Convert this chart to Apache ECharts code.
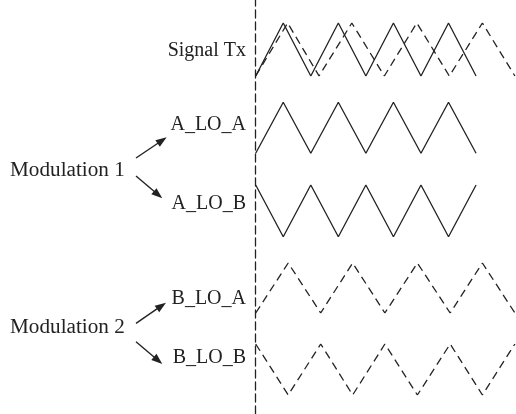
<!DOCTYPE html>
<html>
<head>
<meta charset="utf-8">
<script src="https://cdn.jsdelivr.net/npm/echarts@6/dist/echarts.min.js"></script>
<style>
  html, body { margin: 0; padding: 0; background: #ffffff; }
  #chart { width: 516px; height: 414px; }
</style>
</head>
<body>
<div id="chart"></div>
<script>
// Time axis in units of one half-period of the solid (LO) triangle wave
const solidTimes = [0, 1, 2, 3, 4, 5, 6, 7, 8];
const dashedTimes = [0, 1.18, 2.36, 3.52, 4.69, 5.87, 7.06, 8.23, 9.41];
const txDashedTimes = [0, 1.16, 2.30, 3.49, 4.67, 5.85, 7.03, 8.23, 9.41];

// Levels: 0 = low, 1 = high
const txSolidLevels  = [0, 1, 0, 1, 0, 1, 0, 1, 0];
const txDashedLevels = [0, 1, 0, 1, 0, 1, 0, 1, 0];
const aLoALevels     = [0, 1, 0, 1, 0, 1, 0, 1, 0];
const aLoBLevels     = [1, 0, 1, 0, 1, 0, 1, 0, 1];
const bLoALevels     = [0, 1, 0, 1, 0, 1, 0, 1, 0];
const bLoBLevels     = [1, 0, 1, 0, 1, 0, 1, 0, 1];

const rowLabels = ['Signal Tx', 'A_LO_A', 'A_LO_B', 'B_LO_A', 'B_LO_B'];
const groupLabels = ['Modulation 1', 'Modulation 2'];

const INK = '#222222';
const FONT = '"Liberation Serif", "Times New Roman", serif';
const X_MAX = 9.45;
const AXIS_X = 255.7;

// Row bands (top, height) in pixels
const rows = [
  { top: 23, height: 53, labelY: 51 },
  { top: 102.3, height: 51, labelY: 125 },
  { top: 185, height: 51.7, labelY: 204 },
  { top: 263, height: 50, labelY: 299 },
  { top: 344, height: 51, labelY: 358 }
];

const pair = (ts, vs) => ts.map((t, i) => [t, vs[i]]);

const grids = rows.map(r => ({ left: AXIS_X, right: 0, top: r.top, height: r.height }));
grids.push({ left: AXIS_X, right: 0, top: 0, bottom: 0 });

const xAxes = grids.map((g, i) => ({ gridIndex: i, type: 'value', min: 0, max: X_MAX, show: false }));
const yAxes = grids.map((g, i) => ({ gridIndex: i, type: 'value', min: 0, max: 1, show: false }));
// Dashed reference line at t = 0 spanning the full height
yAxes[5] = {
  gridIndex: 5, type: 'value', min: 0, max: 1, show: true,
  axisLine: { show: true, lineStyle: { color: INK, width: 1.3, type: [8, 4] } },
  axisTick: { show: false }, axisLabel: { show: false }, splitLine: { show: false }
};

function wave(idx, data, dashed) {
  return {
    type: 'line', xAxisIndex: idx, yAxisIndex: idx, data: data,
    symbol: 'none', silent: true,
    lineStyle: { color: INK, width: 1.3, type: dashed ? [8, 5] : 'solid' }
  };
}

const series = [
  wave(0, pair(solidTimes, txSolidLevels), false),
  wave(0, pair(txDashedTimes, txDashedLevels), true),
  wave(1, pair(solidTimes, aLoALevels), false),
  wave(2, pair(solidTimes, aLoBLevels), false),
  wave(3, pair(dashedTimes, bLoALevels), true),
  wave(4, pair(dashedTimes, bLoBLevels), true)
];

const graphics = [];
rows.forEach((r, i) => {
  graphics.push({
    type: 'text', x: 246, y: r.labelY, silent: true,
    style: { text: rowLabels[i], fill: INK, font: '20px ' + FONT, align: 'right', verticalAlign: 'middle' }
  });
});
[171, 327.5].forEach((y, i) => {
  graphics.push({
    type: 'text', x: 10, y: y, scaleX: 1.06, silent: true,
    style: { text: groupLabels[i], fill: INK, font: '20px ' + FONT, align: 'left', verticalAlign: 'middle' }
  });
});

function arrow(x1, y1, x2, y2) {
  const dx = x2 - x1, dy = y2 - y1, len = Math.hypot(dx, dy);
  const ux = dx / len, uy = dy / len, px = -uy, py = ux;
  const L = 11, W = 4;
  const bx = x2 - ux * L, by = y2 - uy * L;
  graphics.push({
    type: 'line', silent: true,
    shape: { x1: x1, y1: y1, x2: x2 - ux * L * 0.6, y2: y2 - uy * L * 0.6 },
    style: { stroke: INK, lineWidth: 1.4 }
  });
  graphics.push({
    type: 'polygon', silent: true,
    shape: { points: [[x2, y2], [bx + px * W, by + py * W], [bx - px * W, by - py * W]] },
    style: { fill: INK }
  });
}
arrow(136, 158, 166.7, 137.3);
arrow(136, 176, 162.3, 198.3);
arrow(136, 323.3, 166, 302.7);
arrow(136, 341.7, 162.3, 364);

const chart = echarts.init(document.getElementById('chart'), null, { renderer: 'canvas' });
chart.setOption({
  backgroundColor: '#ffffff',
  animation: false,
  grid: grids,
  xAxis: xAxes,
  yAxis: yAxes,
  series: series,
  graphic: graphics
});
</script>
</body>
</html>
